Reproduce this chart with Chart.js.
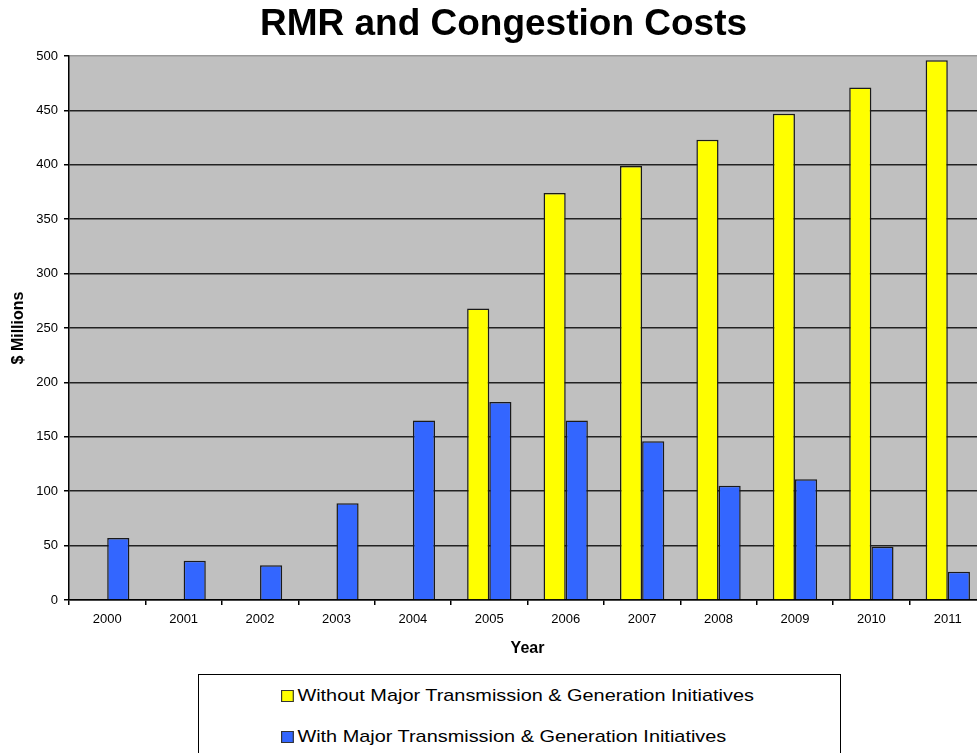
<!DOCTYPE html>
<html lang="en">

<head>
    <meta charset="UTF-8">
    <title>RMR and Congestion Costs</title>
    <script src="https://cdn.jsdelivr.net/npm/chart.js"></script>
    <style>
        body {
            margin: 0;
            background: #fff;
            overflow: hidden;
            width: 977px;
            height: 753px;
            position: relative;
            font-family: Arial, "Liberation Sans", sans-serif;
        }

        #grafico {
            position: absolute;
            left: 0;
            top: 0;
        }

        .legenda {
            position: absolute;
            left: 198px;
            top: 674px;
            width: 643px;
            height: 100px;
            border: 1px solid #000;
            box-sizing: border-box;
        }

        .item-legenda {
            position: absolute;
            left: 82px;
            font-size: 17px;
            line-height: 20px;
            color: #000;
            white-space: nowrap;
            transform: scaleX(1.17);
            transform-origin: left center;
        }

        .quadrado {
            display: inline-block;
            width: 9px;
            height: 10px;
            border: 1px solid #333;
            margin-right: 3px;
            vertical-align: -1px;
        }
    </style>
</head>

<body>
    <canvas id="grafico" width="1007" height="665"></canvas>

    <div class="legenda" id="legenda"></div>

    <script>
        // dados
        const anos = ['2000', '2001', '2002', '2003', '2004', '2005', '2006', '2007', '2008', '2009', '2010', '2011'];
        const semIniciativas = [null, null, null, null, null, 268, 374, 399, 423, 447, 471, 496];
        const comIniciativas = [57, 36, 32, 89, 165, 182, 165, 146, 105, 111, 49, 26];
        const nomesSeries = ['Without Major Transmission & Generation Initiatives', 'With Major Transmission & Generation Initiatives'];
        const coresSeries = ['#ffff00', '#3366ff'];

        Chart.defaults.font.family = 'Arial, "Liberation Sans", sans-serif';
        Chart.defaults.color = '#000';

        // fundo cinza da area do grafico
        const fundoArea = {
            id: 'fundoArea',
            beforeDraw(chart) {
                const { ctx, chartArea } = chart;
                ctx.save();
                ctx.fillStyle = '#c0c0c0';
                ctx.fillRect(chartArea.left, chartArea.top, chartArea.right - chartArea.left, chartArea.bottom - chartArea.top);
                ctx.restore();
            }
        };

        const ctx = document.getElementById('grafico').getContext('2d');
        new Chart(ctx, {
            type: 'bar',
            data: {
                labels: anos,
                datasets: [{
                    label: nomesSeries[0],
                    data: semIniciativas,
                    backgroundColor: coresSeries[0],
                    borderColor: '#1a1a1a',
                    borderWidth: 1.5
                }, {
                    label: nomesSeries[1],
                    data: comIniciativas,
                    backgroundColor: coresSeries[1],
                    borderColor: '#1a1a1a',
                    borderWidth: 1.5
                }]
            },
            options: {
                responsive: false,
                animation: false,
                layout: {
                    padding: { left: 21, right: 21, top: 0, bottom: 0 }
                },
                datasets: {
                    bar: {
                        categoryPercentage: 0.58,
                        barPercentage: 1.0
                    }
                },
                plugins: {
                    legend: { display: false },
                    tooltip: { enabled: false },
                    title: {
                        display: true,
                        text: 'RMR and Congestion Costs',
                        font: { size: 37, weight: 'bold' },
                        padding: { top: 3, bottom: 8.6 }
                    }
                },
                scales: {
                    x: {
                        afterFit(scale) { scale.height = 65; },
                        grid: {
                            drawOnChartArea: false,
                            color: '#000',
                            tickLength: 5,
                            lineWidth: 1.5
                        },
                        border: { display: true, color: '#000', width: 1.5 },
                        ticks: {
                            font: { size: 13 },
                            padding: 7,
                            maxRotation: 0
                        },
                        title: {
                            display: true,
                            text: 'Year',
                            font: { size: 16, weight: 'bold' },
                            padding: { top: 0, bottom: 7 }
                        }
                    },
                    y: {
                        min: 0,
                        max: 500,
                        afterFit(scale) { scale.width = 48; },
                        grid: {
                            color: (c) => c.tick && c.tick.value === 500 ? '#999' : '#222',
                            tickColor: '#000',
                            lineWidth: 1.5,
                            tickLength: 5
                        },
                        border: { display: true, color: '#000', width: 1.5 },
                        ticks: {
                            stepSize: 50,
                            font: { size: 13 },
                            padding: 6
                        },
                        title: {
                            display: true,
                            text: '$ Millions',
                            font: { size: 16, weight: 'bold' },
                            padding: { top: -12.5, bottom: 0 }
                        }
                    }
                }
            },
            plugins: [fundoArea]
        });

        // legenda em caixa, uma serie por linha
        const legenda = document.getElementById('legenda');
        nomesSeries.forEach((nome, i) => {
            const item = document.createElement('div');
            item.className = 'item-legenda';
            item.style.top = (11 + i * 41) + 'px';
            item.innerHTML = '<span class="quadrado" style="background:' + coresSeries[i] + '"></span>';
            item.appendChild(document.createTextNode(nome));
            legenda.appendChild(item);
        });
    </script>
</body>

</html>
